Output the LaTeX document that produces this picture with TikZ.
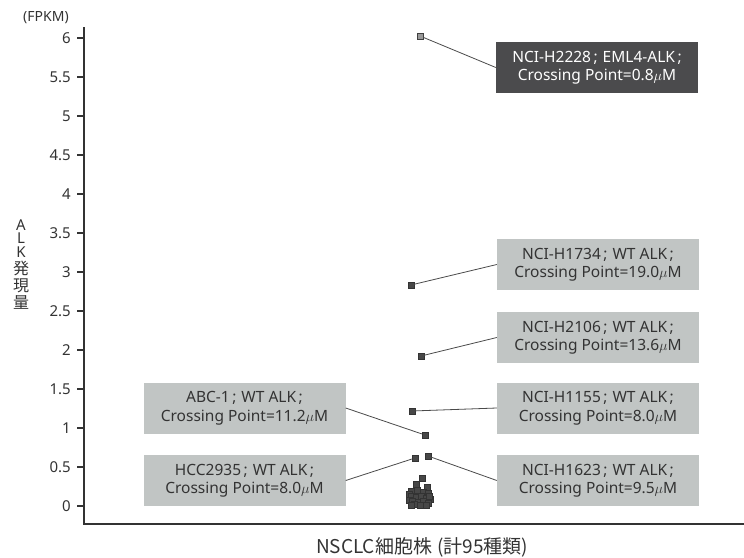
\documentclass[tikz,border=0pt]{standalone}
\usepackage{fontspec}
\setmainfont{Noto Sans}
\newfontfamily\jp{Noto Sans CJK JP}
\definecolor{boxgrey}{HTML}{C1C5C4}
\definecolor{boxdark}{HTML}{4B4B4D}
\definecolor{txtgrey}{HTML}{333333}
\definecolor{axisgrey}{HTML}{333333}
\definecolor{lnk}{HTML}{4A4A4A}
\newcommand{\sep}{\kern2.5pt;\kern5pt}
\tikzset{
  lbox/.style={rectangle, fill=boxgrey, minimum width=202pt, minimum height=51pt, inner sep=0pt,
    align=center, text=txtgrey, font=\fontsize{15.5}{18.5}\selectfont},
  dbox/.style={lbox, fill=boxdark, text=white},
  datapt/.style={rectangle, draw=black!80, line width=0.4pt, fill=black!72, minimum size=6pt, inner sep=0pt},
  litept/.style={datapt, fill=black!40, draw=black!75},
  link/.style={draw=lnk, line width=0.8pt},
  axisline/.style={draw=axisgrey, line width=1.5pt},
  ticklbl/.style={anchor=east, inner sep=0pt, text=txtgrey, font=\fontsize{15}{17}\selectfont},
  ychar/.style={text=txtgrey, inner sep=0pt, anchor=base, text height=10.5pt, text depth=0pt, font=\fontsize{15}{15}\selectfont},
  ykanji/.style={text=txtgrey, inner sep=0pt, anchor=base, text height=13pt, text depth=1.5pt, font=\jp\fontsize{16}{16}\selectfont},
}
\begin{document}
\begin{tikzpicture}[x=1pt,y=-1pt]
\useasboundingbox (0,0) rectangle (744,557);
% axes
\coordinate (ytop) at (84,27);
\coordinate (origin) at (84,524);
\coordinate (xend) at (744,524);
\draw[axisline] (ytop) -- (origin) -- (xend);
% ticks
\foreach \v [count=\i from 0] in {0,0.5,1,1.5,2,2.5,3,3.5,4,4.5,5,5.5,6}{
  \coordinate (t\i) at (84,{506-39*\i});
  \coordinate (ts\i) at (77,{506-39*\i});
  \draw[axisgrey, line width=1.2pt] (ts\i) -- (t\i);
  \node[ticklbl] (tl\i) at (71,{506-39*\i}) {\v};
}
\node[text=txtgrey, font=\fontsize{14}{16}\selectfont, inner sep=0pt] (unit) at (46,18) {(FPKM)};
% axis labels
\node[ychar] (yA) at (21,230) {A};
\node[ychar] (yL) at (21,243.5) {L};
\node[ychar] (yK) at (21,257) {K};
\node[ykanji] (yk1) at (21,274) {発};
\node[ykanji] (yk2) at (21,291) {現};
\node[ykanji] (yk3) at (21,308) {量};
\node[text=txtgrey, inner sep=0pt, font=\jp\fontsize{19}{21}\selectfont] (xlab) at (422,547) {NSCLC細胞株\hspace{5pt}(計95種類)};
% data points
\node[litept] (p2228) at (420,36) {};
\node[datapt] (p1734) at (411,285) {};
\node[datapt] (p2106) at (421,356) {};
\node[datapt] (p1155) at (412,411) {};
\node[datapt] (pabc) at (425,435) {};
\node[datapt] (p2935) at (415,458) {};
\node[datapt] (p1623) at (428,456) {};
\foreach \x/\y [count=\k] in {422/478,416/484,427/487,411/491,417/490,423/492,428/493,409/494,411/496,416/497,421/496,426/498,430/499,409/500,412/501,418/502,423/501,428/503,414/504,420/505,426/505,411/505,429/496}{
  \node[datapt] (c\k) at (\x,\y) {};
}
% boxes
\node[dbox] (b2228) at (597,67.5) {NCI-H2228\sep EML4-ALK\kern2.5pt;\\Crossing Point=0.8$\mu$M};
\node[lbox] (b1734) at (598,264.5) {NCI-H1734\sep WT ALK\kern2.5pt;\\Crossing Point=19.0$\mu$M};
\node[lbox] (b2106) at (598,337.5) {NCI-H2106\sep WT ALK\kern2.5pt;\\Crossing Point=13.6$\mu$M};
\node[lbox] (b1155) at (598,408) {NCI-H1155\sep WT ALK\kern2.5pt;\\Crossing Point=8.0$\mu$M};
\node[lbox] (b1623) at (598,480.5) {NCI-H1623\sep WT ALK\kern2.5pt;\\Crossing Point=9.5$\mu$M};
\node[lbox] (babc) at (244.5,408) {ABC-1\sep WT ALK\kern2.5pt;\\Crossing Point=11.2$\mu$M};
\node[lbox] (b2935) at (244.5,480.5) {HCC2935\sep WT ALK\kern2.5pt;\\Crossing Point=8.0$\mu$M};
% connectors
\draw[link] (p2228) -- (b2228.west);
\draw[link] (p1734) -- (b1734.west);
\draw[link] (p2106) -- (b2106.west);
\draw[link] (p1155) -- (b1155.west);
\draw[link] (p1623) -- (b1623.west);
\draw[link] (pabc) -- (babc.east);
\draw[link] (p2935) -- (b2935.east);
\end{tikzpicture}
\end{document}
